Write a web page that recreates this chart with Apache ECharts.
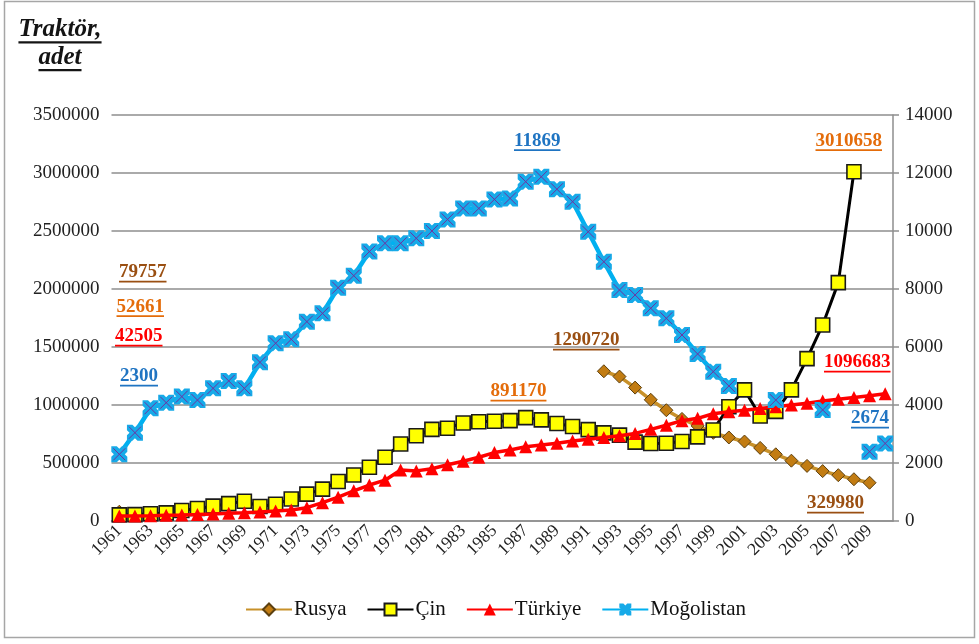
<!DOCTYPE html>
<html>
<head>
<meta charset="utf-8">
<script src="https://cdn.jsdelivr.net/npm/echarts@6/dist/echarts.min.js"></script>
<style>
  html, body { margin: 0; padding: 0; background: #ffffff; }
  #chart { width: 979px; height: 644px; }
</style>
</head>
<body>
<div id="chart"></div>
<script>
// Years on the category axis (1961–2010)
const years = [
  '1961','1962','1963','1964','1965','1966','1967','1968','1969','1970',
  '1971','1972','1973','1974','1975','1976','1977','1978','1979','1980',
  '1981','1982','1983','1984','1985','1986','1987','1988','1989','1990',
  '1991','1992','1993','1994','1995','1996','1997','1998','1999','2000',
  '2001','2002','2003','2004','2005','2006','2007','2008','2009','2010'
];

// Tractor counts (units), left axis
const russia = [
  79757, null, null, null, null, null, null, null, null, null,
  null, null, null, null, null, null, null, null, null, null,
  null, null, null, null, null, null, null, null, null, null,
  null, 1290720, 1245000, 1150000, 1045000, 955000, 880000, 820000, 760000, 720000,
  685000, 630000, 575000, 520000, 475000, 430000, 395000, 360000, 329980, null
];
const china = [
  52661, 55000, 63000, 70000, 90000, 108000, 128000, 150000, 170000, 125000,
  145000, 190000, 232000, 275000, 340000, 397000, 463000, 549000, 664000, 735000,
  790000, 800000, 845000, 855000, 860000, 865000, 891170, 872000, 840000, 815000,
  788000, 760000, 740000, 680000, 668000, 670000, 685000, 725000, 785000, 985000,
  1130000, 905000, 945000, 1130000, 1400000, 1690000, 2055000, 3010658, null, null
];
const turkey = [
  42505, 44000, 46000, 49000, 52000, 56000, 61000, 67000, 72000, 78000,
  86000, 95000, 115000, 158000, 205000, 260000, 310000, 352000, 440000, 432000,
  450000, 485000, 515000, 550000, 590000, 612000, 640000, 655000, 670000, 690000,
  705000, 720000, 735000, 755000, 790000, 825000, 865000, 885000, 925000, 941000,
  955000, 970000, 985000, 1000000, 1015000, 1035000, 1050000, 1065000, 1080000, 1096683
];
// Mongolia, right axis
const mongolia = [
  2300, 3045, 3890, 4080, 4290, 4170, 4575, 4830, 4575, 5470,
  6130, 6265, 6875, 7160, 8045, 8460, 9290, 9575, 9575, 9750,
  10000, 10400, 10780, 10780, 11090, 11125, 11700, 11869, 11440, 11010,
  9975, 8940, 7965, 7795, 7335, 6990, 6415, 5760, 5150, 4655,
  null, null, 4170, null, null, 3830, null, null, 2390, 2674
];

const seriesNames = ['Rusya', 'Çin', 'Türkiye', 'Moğolistan'];
const titleLines = ['Traktör,', 'adet'];

const SERIF = '"Liberation Serif", "Times New Roman", serif';
const BROWN = '#9A4F12';
const ORANGE = '#E46C0A';
const RED = '#FF0000';
const BLUE = '#1F74C2';

// Value call-outs: which value, its colour, and where the text sits
const callouts = [
  { value: russia[0],   color: BROWN,  left: 119,   cy: 272.5 },
  { value: china[0],    color: ORANGE, left: 116.5, cy: 307 },
  { value: turkey[0],   color: RED,    left: 115,   cy: 336.5 },
  { value: mongolia[0], color: BLUE,   left: 120,   cy: 376.5 },
  { value: mongolia[27], color: BLUE,  left: 514,   cy: 141 },
  { value: china[26],   color: ORANGE, left: 490.5, cy: 391.5 },
  { value: russia[31],  color: BROWN,  left: 553,   cy: 340.5 },
  { value: china[47],   color: ORANGE, left: 815.5, cy: 141 },
  { value: turkey[49],  color: RED,    left: 824,   cy: 362.5 },
  { value: mongolia[49], color: BLUE,  left: 851,   cy: 418.5 },
  { value: russia[48],  color: BROWN,  left: 807,   cy: 503.5 }
];

const measureCtx = document.createElement('canvas').getContext('2d');
function textWidth(text, font) {
  measureCtx.font = font;
  return measureCtx.measureText(text).width;
}

const graphics = [];
// frame around the whole figure
graphics.push({
  type: 'rect', silent: true, z: 0,
  shape: { x: 4.5, y: 1.5, width: 970, height: 636 },
  style: { fill: 'none', stroke: '#A6A6A6', lineWidth: 1.5 }
});

// axis caption, two underlined lines
const titleFont = 'italic bold 25px ' + SERIF;
[{ text: titleLines[0], cy: 30, uy: 41.3 }, { text: titleLines[1], cy: 57.5, uy: 69 }].forEach(function (t) {
  const w = textWidth(t.text, titleFont);
  graphics.push({
    type: 'text', x: 60, y: t.cy, z: 10,
    style: { text: t.text, font: titleFont, fill: '#141414', align: 'center', verticalAlign: 'middle' }
  });
  graphics.push({
    type: 'rect', z: 10,
    shape: { x: 60 - w / 2, y: t.uy, width: w, height: 2.2 },
    style: { fill: '#141414' }
  });
});

const noteFont = 'bold 19px ' + SERIF;
callouts.forEach(function (c) {
  const txt = String(c.value);
  const w = textWidth(txt, noteFont);
  graphics.push({
    type: 'text', x: c.left, y: c.cy, z: 10,
    style: { text: txt, font: noteFont, fill: c.color, align: 'left', verticalAlign: 'middle' }
  });
  graphics.push({
    type: 'rect', z: 10,
    shape: { x: c.left, y: c.cy + 8.2, width: w, height: 1.7 },
    style: { fill: c.color }
  });
});

// Mongolia marker: a notched blue square (fat "x") with thin purple diagonals drawn over it
const FAT_X = 'path://M0,0L3.4,0L5,1.6L6.6,0L10,0L10,3.4L8.4,5L10,6.6L10,10L6.6,10L5,8.4L3.4,10L0,10L0,6.6L1.6,5L0,3.4Z';
const THIN_X = 'path://M0,0L10,10M10,0L0,10';

const gridColor = '#8E8E8E';
const plain = function (v) { return String(v); };

const option = {
  animation: false,
  backgroundColor: '#ffffff',
  grid: { left: 111.5, right: 86, top: 115, bottom: 123, containLabel: false },
  legend: {
    data: seriesNames,
    left: 240,
    top: 594,
    itemWidth: 46,
    itemHeight: 15,
    itemGap: 20,
    textStyle: { fontFamily: SERIF, fontSize: 21, color: '#111111', padding: [0, 0, 0, -3] }
  },
  xAxis: {
    type: 'category',
    data: years,
    boundaryGap: true,
    axisLine: { show: true, lineStyle: { color: gridColor, width: 1.5 } },
    axisTick: { show: false },
    axisLabel: {
      interval: 1, rotate: 45, margin: 7,
      fontFamily: SERIF, fontSize: 17.5, color: '#222222'
    },
    splitLine: { show: false }
  },
  yAxis: [
    {
      type: 'value', position: 'left',
      min: 0, max: 3500000, interval: 500000,
      axisLine: { show: false },
      axisTick: { show: false },
      axisLabel: { margin: 12, fontFamily: SERIF, fontSize: 19, color: '#222222', formatter: plain },
      splitLine: { show: true, lineStyle: { color: gridColor, width: 1.5 } }
    },
    {
      type: 'value', position: 'right',
      min: 0, max: 14000, interval: 2000,
      axisLine: { show: true, lineStyle: { color: gridColor, width: 1.5 } },
      axisTick: { show: true, length: 6, lineStyle: { color: gridColor, width: 1.5 } },
      axisLabel: { margin: 12, fontFamily: SERIF, fontSize: 19, color: '#222222', formatter: plain },
      splitLine: { show: false }
    }
  ],
  series: [
    {
      name: seriesNames[0], type: 'line', data: russia, yAxisIndex: 0,
      symbol: 'diamond', symbolSize: 13, showAllSymbol: true, connectNulls: false,
      lineStyle: { color: '#C8912A', width: 3.5 },
      itemStyle: { color: '#C27C12', borderColor: '#5C4010', borderWidth: 1 },
      z: 2
    },
    {
      name: seriesNames[1], type: 'line', data: china, yAxisIndex: 0,
      symbol: 'rect', symbolSize: 14, showAllSymbol: true, connectNulls: false,
      lineStyle: { color: '#000000', width: 3 },
      itemStyle: { color: '#FFFF00', borderColor: '#1A1A1A', borderWidth: 1.6 },
      z: 3
    },
    {
      name: seriesNames[2], type: 'line', data: turkey, yAxisIndex: 0,
      symbol: 'triangle', symbolSize: 13, showAllSymbol: true, connectNulls: false,
      lineStyle: { color: '#FF0000', width: 3.5 },
      itemStyle: { color: '#FF0000' },
      z: 4
    },
    {
      name: seriesNames[3], type: 'line', data: mongolia, yAxisIndex: 1,
      symbol: FAT_X, symbolSize: 16, showAllSymbol: true, connectNulls: false,
      lineStyle: { color: '#00B0F0', width: 4.5 },
      itemStyle: { color: '#17AAE8', borderWidth: 0 },
      z: 5
    },
    {
      name: 'Moğolistan ×', type: 'line', data: mongolia, yAxisIndex: 1,
      symbol: THIN_X, symbolSize: 12, showAllSymbol: true, connectNulls: false,
      lineStyle: { width: 0, opacity: 0 },
      itemStyle: { color: 'rgba(0,0,0,0)', borderColor: '#7030A0', borderWidth: 1 },
      silent: true, z: 6
    }
  ],
  graphic: graphics
};

const chart = echarts.init(document.getElementById('chart'), null, { renderer: 'canvas' });
chart.setOption(option);
</script>
</body>
</html>
